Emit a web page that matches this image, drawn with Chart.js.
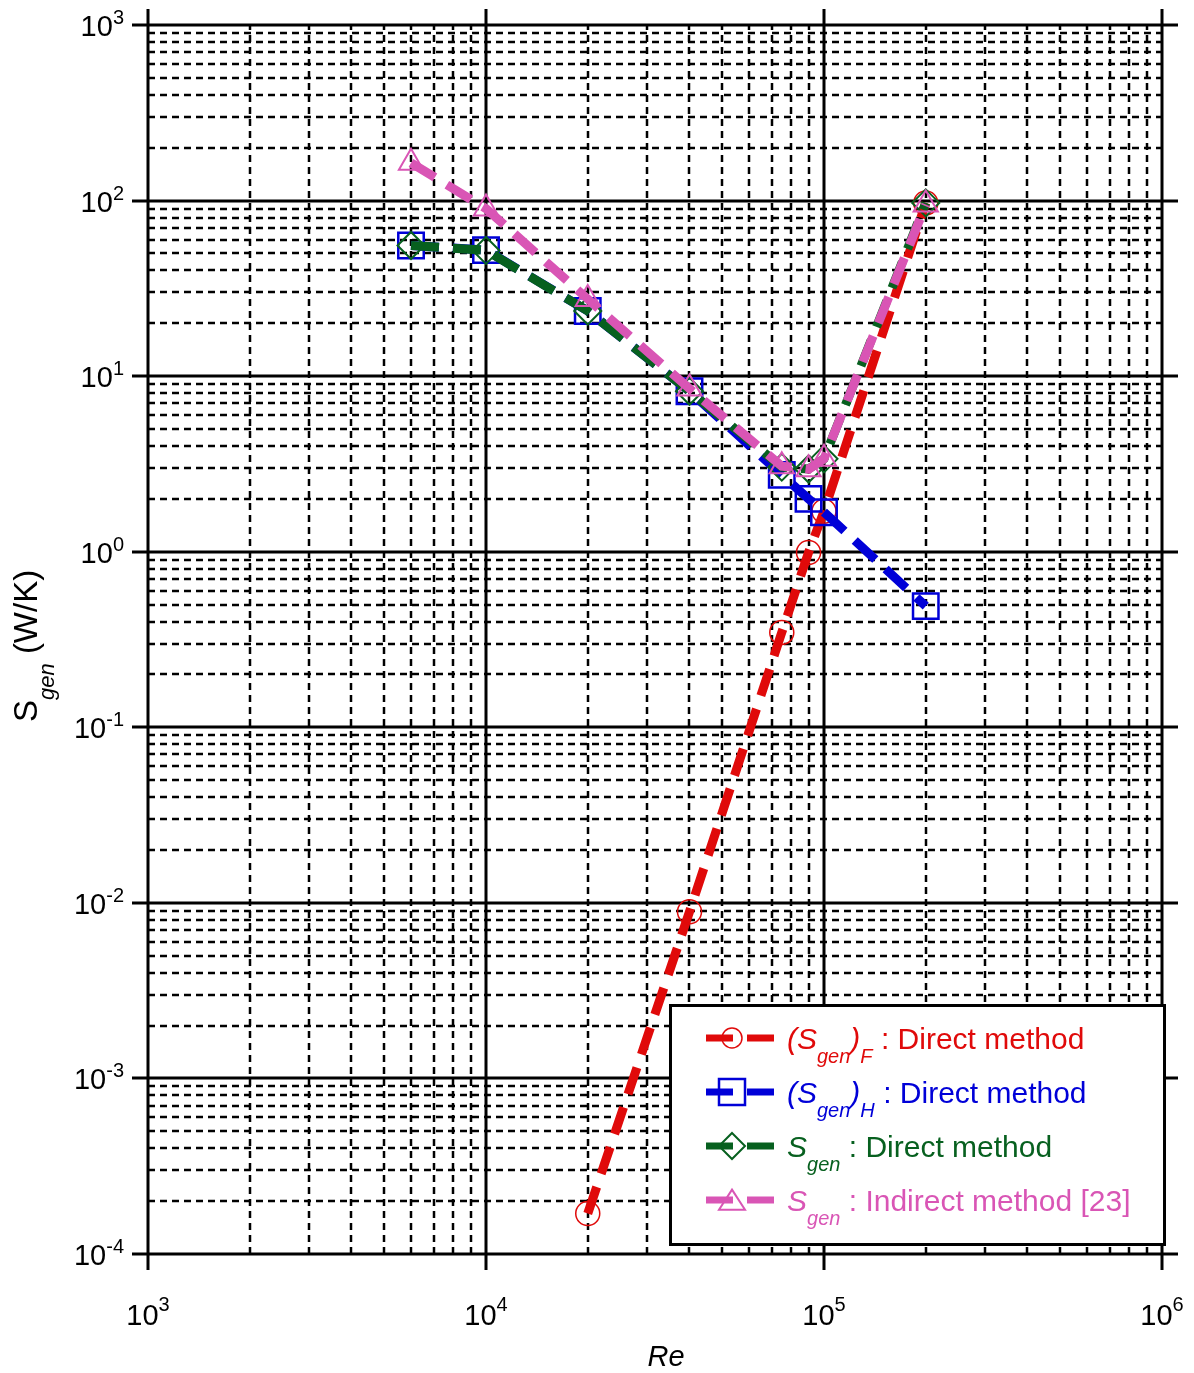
<!DOCTYPE html>
<html><head><meta charset="utf-8">
<script src="https://cdn.jsdelivr.net/npm/chart.js@4.4.1/dist/chart.umd.min.js"></script>
<style>html,body{margin:0;padding:0;background:#fff}</style>
</head><body>
<canvas id="c" width="1194" height="1373"></canvas>
<script>
// ---- data ----
const reF = [2e4, 4e4, 7.5e4, 9e4, 1e5, 2e5];
const sgenF = [1.7e-4, 8.9e-3, 0.347, 0.99, 1.7, 97];
const reAll = [6e3, 1e4, 2e4, 4e4, 7.5e4, 9e4, 1e5, 2e5];
const sgenH = [55.5, 52.2, 23.5, 8.2, 2.74, 2.0, 1.68, 0.49];
const sgenDirect = [55.5, 52, 23.5, 8.2, 3.03, 2.96, 3.38, 97];
const sgenIndirect = [164, 90, 27.5, 8.5, 3.07, 2.95, 3.38, 95];
const xTickExp = [3, 4, 5, 6];
const yTickExp = [-4, -3, -2, -1, 0, 1, 2, 3];
const seriesNames = ['(S_gen)_F : Direct method', '(S_gen)_H : Direct method', 'S_gen : Direct method', 'S_gen : Indirect method [23]'];

const COL = {red: '#e00a0a', blue: '#0000d8', green: '#07601f', pink: '#d955b5'};
const FF = "'Liberation Sans', Arial, sans-serif";

const pts = (xs, ys) => xs.map((x, i) => ({x: x, y: ys[i]}));

function ds(label, data, color, style, radius, pbw, order) {
  return {
    label: label, data: data, showLine: true,
    borderColor: color, borderWidth: 9, borderDash: [28, 14], borderCapStyle: 'butt',
    pointStyle: style, pointRadius: radius, pointHoverRadius: radius,
    pointBorderColor: color, pointBackgroundColor: 'rgba(0,0,0,0)', pointBorderWidth: pbw,
    order: order, clip: false
  };
}

function drawRich(ctx, x, y, parts) {
  for (const p of parts) {
    ctx.font = p.font;
    ctx.fillStyle = p.color;
    ctx.fillText(p.t, x, y + (p.dy || 0));
    x += ctx.measureText(p.t).width;
  }
  return x;
}

function marker(ctx, style, x, y, r, color, lw) {
  ctx.save();
  ctx.setLineDash([]);
  ctx.strokeStyle = color; ctx.lineWidth = lw;
  ctx.beginPath();
  if (style === 'circle') { ctx.arc(x, y, r, 0, Math.PI * 2); }
  else if (style === 'rect') { ctx.rect(x - r, y - r, 2 * r, 2 * r); }
  else if (style === 'rectRot') { ctx.moveTo(x, y - r); ctx.lineTo(x + r, y); ctx.lineTo(x, y + r); ctx.lineTo(x - r, y); ctx.closePath(); }
  else if (style === 'triangle') { ctx.moveTo(x, y - r * 0.8); ctx.lineTo(x + r, y + r * 0.75); ctx.lineTo(x - r, y + r * 0.75); ctx.closePath(); }
  ctx.stroke();
  ctx.restore();
}

const gridPlugin = {
  id: 'logGrid',
  beforeDatasetsDraw(chart) {
    const ctx = chart.ctx, xs = chart.scales.x, ys = chart.scales.y, ca = chart.chartArea;
    ctx.save();
    ctx.strokeStyle = '#000';
    ctx.setLineDash([7, 5]);
    ctx.lineWidth = 2.5;
    ctx.beginPath();
    for (let e = 3; e < 6; e++) for (let m = 2; m <= 9; m++) {
      const px = Math.round(xs.getPixelForValue(m * Math.pow(10, e)));
      ctx.moveTo(px, ca.bottom); ctx.lineTo(px, ca.top);
    }
    for (let e = -4; e < 3; e++) for (let m = 2; m <= 9; m++) {
      const py = Math.round(ys.getPixelForValue(m * Math.pow(10, e)));
      ctx.moveTo(ca.left, py); ctx.lineTo(ca.right, py);
    }
    ctx.stroke();
    ctx.setLineDash([]);
    ctx.lineWidth = 3;
    ctx.beginPath();
    for (const e of xTickExp) {
      const px = Math.round(xs.getPixelForValue(Math.pow(10, e)));
      ctx.moveTo(px, ca.top - 16); ctx.lineTo(px, ca.bottom + 16);
    }
    for (const e of yTickExp) {
      const py = Math.round(ys.getPixelForValue(Math.pow(10, e)));
      ctx.moveTo(ca.left - 16, py); ctx.lineTo(ca.right + 16, py);
    }
    ctx.stroke();
    ctx.restore();
  },
  afterDraw(chart) {
    const ctx = chart.ctx, xs = chart.scales.x, ys = chart.scales.y, ca = chart.chartArea;
    ctx.save();
    ctx.textAlign = 'left';
    ctx.textBaseline = 'alphabetic';
    const bigF = '29px ' + FF, supF = '20px ' + FF;
    for (const e of xTickExp) {
      const px = xs.getPixelForValue(Math.pow(10, e));
      ctx.font = bigF; const w1 = ctx.measureText('10').width;
      ctx.font = supF; const w2 = ctx.measureText(String(e)).width;
      const x0 = px - (w1 + w2) / 2;
      drawRich(ctx, x0, ca.bottom + 71, [
        {t: '10', font: bigF, color: '#000'},
        {t: String(e), font: supF, color: '#000', dy: -14}
      ]);
    }
    for (const e of yTickExp) {
      const py = ys.getPixelForValue(Math.pow(10, e));
      ctx.font = bigF; const w1 = ctx.measureText('10').width;
      ctx.font = supF; const w2 = ctx.measureText(String(e)).width;
      const x0 = ca.left - 24 - (w1 + w2);
      drawRich(ctx, x0, py + 11, [
        {t: '10', font: bigF, color: '#000'},
        {t: String(e), font: supF, color: '#000', dy: -12}
      ]);
    }
    ctx.font = 'italic 29px ' + FF;
    ctx.fillStyle = '#000';
    ctx.textAlign = 'center';
    ctx.fillText('Re', 666, ca.bottom + 112);
    ctx.textAlign = 'left';
    ctx.save();
    ctx.translate(37, 722);
    ctx.rotate(-Math.PI / 2);
    drawRich(ctx, 0, 0, [
      {t: 'S', font: '33px ' + FF, color: '#000'},
      {t: 'gen', font: 'italic 22px ' + FF, color: '#000', dy: 17},
      {t: ' (W/K)', font: '33px ' + FF, color: '#000'}
    ]);
    ctx.restore();

    const lx = 670, ly = 1005, lw = 494, lh = 239;
    ctx.fillStyle = '#fff';
    ctx.fillRect(lx, ly, lw, lh);
    ctx.lineWidth = 3; ctx.strokeStyle = '#000';
    ctx.strokeRect(lx + 0.5, ly + 0.5, lw, lh);
    const mainI = 'italic 30px ' + FF, mainR = '30px ' + FF, sub = 'italic 20px ' + FF;
    const rows = [
      {c: COL.red, s: 'circle', r: 10, w: 1.5, parts: [
        {t: '(S', font: mainI}, {t: 'gen', font: sub, dy: 14}, {t: ')', font: mainI}, {t: 'F', font: sub, dy: 14}, {t: ' : Direct method', font: mainR}]},
      {c: COL.blue, s: 'rect', r: 13, w: 2.5, parts: [
        {t: '(S', font: mainI}, {t: 'gen', font: sub, dy: 14}, {t: ')', font: mainI}, {t: 'H', font: sub, dy: 14}, {t: ' : Direct method', font: mainR}]},
      {c: COL.green, s: 'rectRot', r: 13, w: 2, parts: [
        {t: 'S', font: mainI}, {t: 'gen', font: sub, dy: 14}, {t: ' : Direct method', font: mainR}]},
      {c: COL.pink, s: 'triangle', r: 13, w: 2, parts: [
        {t: 'S', font: mainI}, {t: 'gen', font: sub, dy: 14}, {t: ' : Indirect method [23]', font: mainR}]}
    ];
    rows.forEach((row, i) => {
      const cy = 1038 + i * 54;
      ctx.save();
      ctx.strokeStyle = row.c; ctx.lineWidth = 7; ctx.setLineDash([27, 14]);
      ctx.beginPath(); ctx.moveTo(706, cy); ctx.lineTo(774, cy); ctx.stroke();
      ctx.restore();
      marker(ctx, row.s, 732, cy, row.r, row.c, row.w);
      drawRich(ctx, 787, cy + 11, row.parts.map(p => Object.assign({color: row.c}, p)));
    });
    ctx.restore();
  }
};

new Chart(document.getElementById('c'), {
  type: 'scatter',
  data: {
    datasets: [
      ds(seriesNames[0], pts(reF, sgenF), COL.red, 'circle', 12, 1.5, 3),
      ds(seriesNames[1], pts(reAll, sgenH), COL.blue, 'rect', 18, 2.5, 2),
      ds(seriesNames[2], pts(reAll, sgenDirect), COL.green, 'rectRot', 13.5, 2, 1),
      ds(seriesNames[3], pts(reAll, sgenIndirect), COL.pink, 'triangle', 14, 2, 0)
    ]
  },
  options: {
    responsive: false, animation: false, devicePixelRatio: 1,
    layout: {padding: {left: 0, right: 32, top: 25, bottom: 0}},
    plugins: {legend: {display: false}, tooltip: {enabled: false}},
    events: [],
    scales: {
      x: {type: 'logarithmic', min: 1e3, max: 1e6,
          ticks: {display: false}, grid: {display: false}, border: {display: false},
          afterFit: s => { s.height = 119; }},
      y: {type: 'logarithmic', min: 1e-4, max: 1e3,
          ticks: {display: false}, grid: {display: false}, border: {display: false},
          afterFit: s => { s.width = 148; }}
    }
  },
  plugins: [gridPlugin]
});
</script>
</body></html>
